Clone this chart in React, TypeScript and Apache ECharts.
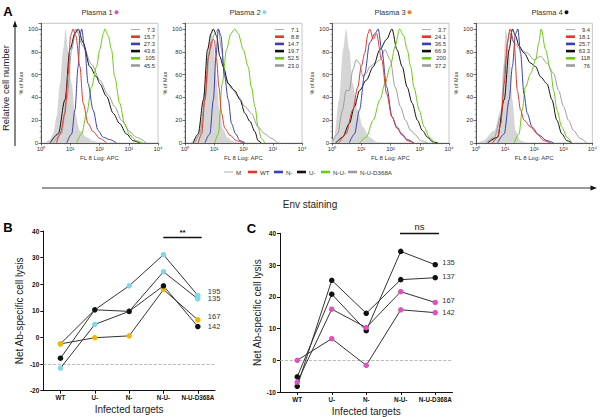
import React, { useEffect, useRef } from 'react';
import * as echarts from 'echarts';

const FONT = '"Liberation Sans", Arial, Helvetica, sans-serif';

// ---------- Panel A: flow histograms (x = log10 FL8 APC, y = % of Max) ----------
const histKeys = ['M', 'WT', 'N-', 'U-', 'N-U-', 'N-U-D368A'];
const histColors = ['#d5d5d5', '#e8342a', '#3a3fb5', '#111111', '#6acc12', '#9c9c9c'];
const plasmaTitles = ['Plasma 1', 'Plasma 2', 'Plasma 3', 'Plasma 4'];
const plasmaDotColors = ['#e04cb8', '#86d8ef', '#f07c1e', '#111111'];
const xTickLabels = ['10⁰', '10¹', '10²', '10³', '10⁴'];

const mfi1 = ['7.3', '15.7', '27.3', '43.6', '105', '45.5'];
const mfi2 = ['7.1', '8.8', '14.7', '19.7', '52.5', '23.0'];
const mfi3 = ['3.7', '24.1', '36.5', '66.9', '200', '37.2'];
const mfi4 = ['9.4', '18.1', '25.7', '63.3', '118', '76'];

const p1M = [[0.15,0],[0.3,3],[0.42,8],[0.53,23],[0.65,52],[0.76,82],[0.84,100],[0.93,82],[1.05,52],[1.16,26],[1.33,11],[1.56,5],[1.78,2],[2.0,0]];
const p1WT = [[0.53,0],[0.65,8],[0.82,26],[0.93,61],[1.01,94],[1.1,100],[1.19,94],[1.33,67],[1.44,35],[1.61,17],[1.78,10],[2.01,4],[2.24,0]];
const p1N = [[0.88,0],[1.05,8],[1.16,29],[1.27,67],[1.33,94],[1.39,100],[1.5,82],[1.61,52],[1.78,29],[1.95,11],[2.13,5],[2.35,3],[2.58,0]];
const p1U = [[0.31,0],[0.59,8],[0.82,38],[0.99,82],[1.16,96],[1.27,100],[1.44,88],[1.67,67],[1.9,58],[2.01,52],[2.24,41],[2.47,26],[2.69,17],[2.92,8],[3.15,2],[3.38,0]];
const p1NU = [[1.22,0],[1.39,8],[1.56,26],[1.73,49],[1.9,67],[2.01,82],[2.13,96],[2.18,100],[2.3,94],[2.41,82],[2.52,58],[2.69,35],[2.86,17],[3.03,7],[3.26,2],[3.49,0]];
const p1D = [[0.42,0],[0.7,8],[0.88,38],[1.05,82],[1.19,100],[1.44,85],[1.73,69],[2.01,55],[2.3,42],[2.52,32],[2.75,20],[3.03,10],[3.26,5],[3.6,0]];

const p2M = [[0.2,0],[0.4,5],[0.55,20],[0.65,45],[0.75,75],[0.85,95],[0.91,100],[0.98,85],[1.08,55],[1.18,28],[1.3,12],[1.45,5],[1.6,2],[1.8,0]];
const p2WT = [[0.45,0],[0.57,8],[0.68,38],[0.8,76],[0.91,89],[0.96,91],[1.0,90],[1.08,73],[1.16,49],[1.25,26],[1.36,13],[1.53,7],[1.76,2],[1.99,0]];
const p2N = [[0.68,0],[0.85,8],[0.97,38],[1.06,76],[1.14,100],[1.23,94],[1.34,61],[1.48,38],[1.59,17],[1.73,8],[1.88,2],[2.05,0]];
const p2U = [[0.28,0],[0.45,8],[0.63,38],[0.77,82],[0.89,96],[0.97,100],[1.08,94],[1.19,76],[1.31,67],[1.48,52],[1.7,46],[1.88,38],[2.05,26],[2.22,19],[2.39,10],[2.5,2],[2.61,0]];
const p2NU = [[1.02,0],[1.14,8],[1.27,52],[1.42,82],[1.57,96],[1.7,100],[1.82,96],[1.99,82],[2.16,67],[2.27,49],[2.39,32],[2.5,14],[2.61,4],[2.73,0]];
const p2D = [[0.34,0],[0.51,8],[0.68,38],[0.85,82],[1.02,96],[1.14,100],[1.25,82],[1.36,58],[1.59,48],[1.82,41],[2.05,32],[2.27,26],[2.5,14],[2.73,8],[2.95,4],[3.18,0]];

const p3M = [[0.0,2],[0.07,5],[0.24,38],[0.38,82],[0.48,100],[0.59,82],[0.71,52],[0.88,29],[1.06,14],[1.29,5],[1.52,1],[1.7,0]];
const p3WT = [[0.24,0],[0.48,8],[0.71,29],[0.88,49],[1.0,67],[1.12,79],[1.23,96],[1.29,100],[1.41,91],[1.52,96],[1.7,73],[1.87,43],[2.05,23],[2.22,14],[2.4,8],[2.57,2],[2.8,0]];
const p3N = [[0.59,0],[0.77,8],[0.94,29],[1.12,61],[1.29,88],[1.47,96],[1.58,100],[1.7,82],[1.87,49],[2.05,23],[2.22,13],[2.4,7],[2.57,3],[2.8,0]];
const p3U = [[0.13,0],[0.36,5],[0.59,17],[0.77,32],[0.94,46],[1.17,55],[1.41,67],[1.64,82],[1.87,91],[2.05,100],[2.22,82],[2.4,67],[2.57,49],[2.74,35],[2.92,20],[3.09,11],[3.27,5],[3.44,1],[3.62,0]];
const p3NU = [[0.94,0],[1.17,5],[1.41,20],[1.64,38],[1.81,52],[1.99,67],[2.16,85],[2.31,100],[2.45,94],[2.57,82],[2.69,67],[2.8,49],[2.98,29],[3.15,14],[3.33,5],[3.5,0]];
const p3D = [[0.01,1],[0.19,8],[0.36,29],[0.48,46],[0.59,46],[0.71,64],[0.83,73],[0.94,70],[1.06,58],[1.17,61],[1.29,67],[1.47,70],[1.64,73],[1.81,82],[1.99,73],[2.16,49],[2.34,32],[2.51,20],[2.69,11],[2.86,7],[3.03,2],[3.27,0]];

const p4M = [[0.06,0],[0.23,2],[0.63,11],[0.85,29],[0.94,67],[1.02,100],[1.14,82],[1.25,38],[1.36,11],[1.53,2],[1.76,0]];
const p4WT = [[0.57,0],[0.74,5],[0.85,17],[0.97,52],[1.08,88],[1.17,100],[1.31,88],[1.42,46],[1.53,29],[1.65,20],[1.88,14],[2.1,8],[2.33,2],[2.56,0]];
const p4N = [[0.74,0],[0.97,8],[1.14,38],[1.25,67],[1.36,96],[1.44,100],[1.53,79],[1.65,43],[1.76,26],[1.93,14],[2.16,7],[2.44,2],[2.67,0]];
const p4U = [[0.4,0],[0.74,5],[0.97,38],[1.14,82],[1.25,100],[1.36,94],[1.48,85],[1.65,79],[1.88,70],[2.05,67],[2.22,58],[2.44,52],[2.61,38],[2.78,20],[2.95,8],[3.13,2],[3.3,0]];
const p4NU = [[1.31,0],[1.48,8],[1.59,29],[1.7,49],[1.88,61],[2.05,73],[2.16,88],[2.24,100],[2.39,82],[2.56,64],[2.67,46],[2.78,29],[2.95,14],[3.13,5],[3.3,0]];
const p4D = [[0.34,0],[0.63,5],[0.85,23],[1.02,73],[1.14,97],[1.31,88],[1.53,82],[1.76,79],[1.99,73],[2.22,76],[2.44,70],[2.67,61],[2.84,46],[3.01,32],[3.18,20],[3.35,11],[3.58,4],[3.81,0]];

// ---------- Panels B and C: net Ab-specific cell lysis ----------
const targets = ['WT', 'U-', 'N-', 'N-U-', 'N-U-D368A'];
const b195 = [-2.4, 10.4, 19.4, 31.1, 15.8];
const b135 = [-11.5, 4.9, 9.8, 24.7, 14.5];
const b167 = [-2.4, -0.1, 0.6, 18.0, 6.6];
const b142 = [-7.8, 10.4, 9.8, 19.4, 4.1];
const c135 = [-5.2, 20.8, 9.3, 34.3, 30.1];
const c137 = [-8.2, 25.2, 14.8, 25.4, 26.0];
const c167 = [-6.9, 16.1, 10.3, 21.6, 18.2];
const c142 = [0, 6.8, -1.6, 15.9, 15.0];

const CYAN = '#82d5ea';
const ORANGE = '#f2b705';
const BLACK = '#111111';
const PINK = '#e050c0';

function buildOption() {
  const panels = [
    { data: [p1M, p1WT, p1N, p1U, p1NU, p1D], mfi: mfi1 },
    { data: [p2M, p2WT, p2N, p2U, p2NU, p2D], mfi: mfi2 },
    { data: [p3M, p3WT, p3N, p3U, p3NU, p3D], mfi: mfi3 },
    { data: [p4M, p4WT, p4N, p4U, p4NU, p4D], mfi: mfi4 },
  ];
  const panelLeft = [41, 185, 332, 476];
  const histTop = 23.3, histW = 117, histH = 119.7;
  const drawOrder = [0, 5, 3, 4, 2, 1];

  const grid: any[] = panelLeft.map((l) => ({
    left: l, top: histTop, width: histW, height: histH,
    show: true, borderColor: '#b8b8b8', borderWidth: 0.8, backgroundColor: 'transparent',
  }));
  grid.push({ left: 43.3, top: 231, width: 171.7, height: 159.7 });
  grid.push({ left: 280, top: 233.3, width: 172.5, height: 159.4 });

  const axLine = { show: true, onZero: false, lineStyle: { color: '#333', width: 0.8 } };
  const xAxis: any[] = [];
  const yAxis: any[] = [];
  panelLeft.forEach((_, i) => {
    xAxis.push({
      gridIndex: i, type: 'value', min: 0, max: 4, interval: 1,
      axisLine: axLine,
      axisTick: { show: true, length: 2.5, lineStyle: { color: '#333', width: 0.7 } },
      minorTick: { show: true, splitNumber: 9, length: 1.3, lineStyle: { color: '#555', width: 0.5 } },
      splitLine: { show: false },
      axisLabel: { fontSize: 6, color: '#333', margin: 3, fontFamily: FONT,
        formatter: (v: number) => xTickLabels[Math.round(v)] ?? '' },
      name: 'FL 8 Log: APC', nameLocation: 'middle', nameGap: 12,
      nameTextStyle: { fontSize: 6, color: '#333', fontFamily: FONT },
    });
    yAxis.push({
      gridIndex: i, type: 'value', min: 0, max: 105, interval: 20,
      axisLine: axLine,
      axisTick: { show: true, length: 2.5, lineStyle: { color: '#333', width: 0.7 } },
      minorTick: { show: true, splitNumber: 4, length: 1.3, lineStyle: { color: '#555', width: 0.5 } },
      splitLine: { show: false },
      axisLabel: { fontSize: 6, color: '#333', margin: 3, fontFamily: FONT, showMaxLabel: false },
      name: '% of Max', nameLocation: 'middle', nameGap: 15,
      nameTextStyle: { fontSize: 5.5, color: '#333', fontFamily: FONT },
    });
  });

  const catAxis = (gi: number) => ({
    gridIndex: gi, type: 'category', data: targets, boundaryGap: true,
    axisLine: { show: true, onZero: false, lineStyle: { color: '#111', width: 1 } },
    axisTick: { show: true, alignWithLabel: true, interval: 0, length: 3, lineStyle: { color: '#111' } },
    axisLabel: { fontSize: 6.3, fontWeight: 'bold', color: '#111', margin: 4, fontFamily: FONT, interval: 0, hideOverlap: false },
    name: 'Infected targets', nameLocation: 'middle', nameGap: 14,
    nameTextStyle: { fontSize: 10, color: '#222', fontFamily: FONT },
  });
  const valAxis = (gi: number, min: number, gap: number) => ({
    gridIndex: gi, type: 'value', min, max: 40, interval: 10,
    axisLine: { show: true, onZero: false, lineStyle: { color: '#111', width: 1 } },
    axisTick: { show: true, length: 3, lineStyle: { color: '#111' } },
    splitLine: { show: false },
    axisLabel: { fontSize: 6.5, fontWeight: 'bold', color: '#111', margin: 4, fontFamily: FONT },
    name: 'Net Ab-specific cell lysis', nameLocation: 'middle', nameGap: gap,
    nameTextStyle: { fontSize: 10, color: '#222', fontFamily: FONT },
  });
  xAxis.push(catAxis(4), catAxis(5));
  yAxis.push(valAxis(4, -20, 19), valAxis(5, -10, 18));

  const series: any[] = [];
  panels.forEach((p, i) => {
    drawOrder.forEach((k, zi) => {
      series.push({
        type: 'line', name: histKeys[k], xAxisIndex: i, yAxisIndex: i,
        data: p.data[k], showSymbol: false, symbol: 'none', silent: true,
        smooth: 0.3, smoothMonotone: 'x', z: 2 + zi,
        lineStyle: { color: histColors[k], width: k === 0 ? 0 : 1 },
        itemStyle: { color: histColors[k] },
        areaStyle: k === 0 ? { color: histColors[0], opacity: 1 } : undefined,
      });
    });
  });

  const lysis = (gi: number, name: string, data: number[], color: string, off: number[], mark?: number) => ({
    type: 'line', name, xAxisIndex: gi, yAxisIndex: gi, data,
    symbol: 'circle', symbolSize: 5.5, showSymbol: true, z: 5,
    lineStyle: { color: '#333', width: 1 },
    itemStyle: { color },
    endLabel: { show: true, formatter: name, offset: off, distance: 5, fontSize: 7.5, color: '#333', fontFamily: FONT },
    markLine: mark === undefined ? undefined : {
      silent: true, symbol: 'none', label: { show: false },
      lineStyle: { type: 'dashed', color: '#aaa', width: 0.8 },
      data: [{ yAxis: mark }],
    },
  });
  series.push(
    lysis(4, '195', b195, CYAN, [5, -4], -10),
    lysis(4, '135', b135, CYAN, [5, 0]),
    lysis(4, '167', b167, ORANGE, [5, -3]),
    lysis(4, '142', b142, BLACK, [5, 0]),
    lysis(5, '135', c135, BLACK, [2, -2], 0),
    lysis(5, '137', c137, BLACK, [2, -1]),
    lysis(5, '167', c167, PINK, [2, -1.5]),
    lysis(5, '142', c142, PINK, [2, 0]),
  );

  const txt = (x: number, y: number, text: string, size: number, extra: any = {}) => ({
    type: 'text', x, y, silent: true,
    style: {
      text, fontSize: size, fontFamily: FONT, fill: extra.fill ?? '#222',
      fontWeight: extra.bold ? 'bold' : 'normal',
      align: extra.align ?? 'center', textAlign: extra.align ?? 'center',
      verticalAlign: 'middle', textVerticalAlign: 'middle',
    },
    rotation: extra.rot ?? 0,
  });
  const seg = (x1: number, y1: number, x2: number, y2: number, stroke: string, w: number) => ({
    type: 'line', silent: true, shape: { x1, y1, x2, y2 }, style: { stroke, lineWidth: w },
  });

  const graphic: any[] = [];
  graphic.push(txt(8, 11, 'A', 13, { bold: true, fill: '#000' }));
  graphic.push(txt(8, 227, 'B', 13, { bold: true, fill: '#000' }));
  graphic.push(txt(251.5, 228, 'C', 13, { bold: true, fill: '#000' }));
  const titleCx = [97, 245, 390, 547];
  plasmaTitles.forEach((t, i) => {
    graphic.push(txt(titleCx[i], 12.3, t, 7.5, { fill: '#333' }));
    graphic.push({ type: 'circle', silent: true, shape: { cx: titleCx[i] + 19.5, cy: 12.3, r: 2 }, style: { fill: plasmaDotColors[i] } });
  });
  panels.forEach((p, i) => {
    const right = panelLeft[i] + histW;
    p.mfi.forEach((v, k) => {
      const y = 29.5 + k * 7.2;
      const c = k === 0 ? '#999' : histColors[k];
      graphic.push(seg(right - 27, y, right - 18, y, c, k === 0 ? 0.8 : 2.6));
      graphic.push(txt(right - 3, y, v, 5.8, { align: 'right', fill: '#333' }));
    });
  });
  const legX = [224, 248, 274, 297, 321, 348];
  histKeys.forEach((k, i) => {
    const c = i === 0 ? '#999' : histColors[i];
    graphic.push(seg(legX[i], 172, legX[i] + 9, 172, c, i === 0 ? 0.8 : 2.6));
    graphic.push(txt(legX[i] + 12, 172, k, 6.2, { align: 'left', fill: '#333' }));
  });
  graphic.push(seg(15, 146, 15, 26, '#111', 1));
  graphic.push({ type: 'polygon', silent: true, shape: { points: [[15, 20.5], [12.8, 27], [17.2, 27]] }, style: { fill: '#111' } });
  graphic.push(txt(5.5, 88, 'Relative cell number', 9.5, { rot: Math.PI / 2, fill: '#222' }));
  graphic.push(seg(42, 188, 591, 188, '#777', 1.6));
  graphic.push({ type: 'polygon', silent: true, shape: { points: [[597, 188], [590.5, 185.5], [590.5, 190.5]] }, style: { fill: '#111' } });
  graphic.push(txt(310, 204, 'Env staining', 10, { fill: '#222' }));
  graphic.push(txt(182.5, 232.5, '**', 8, { bold: true, fill: '#111' }));
  graphic.push(seg(163.3, 237.5, 201.7, 237.5, '#111', 1.3));
  graphic.push(txt(419.5, 226, 'ns', 9.5, { fill: '#222' }));
  graphic.push(seg(400, 233.5, 439, 233.5, '#111', 1.3));

  return {
    animation: false,
    backgroundColor: '#ffffff',
    textStyle: { fontFamily: FONT },
    grid, xAxis, yAxis, series, graphic,
  };
}

export default function App() {
  const ref = useRef<HTMLDivElement>(null);
  useEffect(() => {
    document.body.style.margin = '0';
    const chart = echarts.init(ref.current as HTMLDivElement, null, { renderer: 'svg' });
    chart.setOption(buildOption() as any);
    return () => chart.dispose();
  }, []);
  return <div ref={ref} style={{ width: 600, height: 417 }} />;
}
